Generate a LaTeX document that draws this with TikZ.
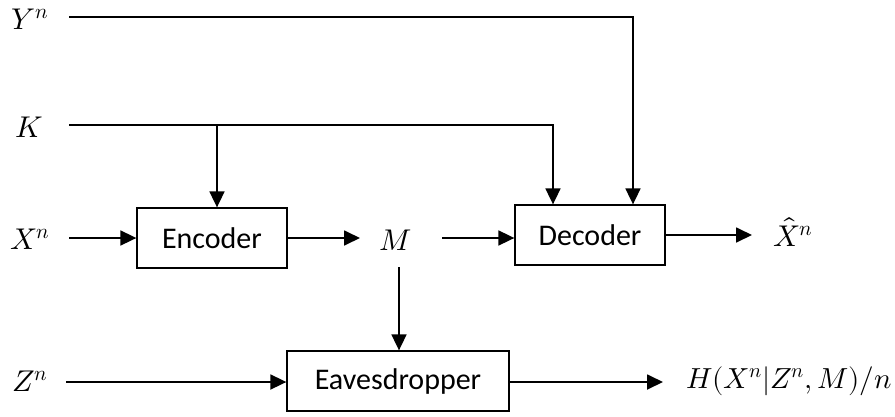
\documentclass[tikz,border=0pt]{standalone}
\usepackage{fontspec}
\usepackage{unicode-math}
\setmainfont{Carlito}
\setmathfont{Latin Modern Math}
\usetikzlibrary{arrows.meta}
\begin{document}
\begin{tikzpicture}[x=1pt,y=-1pt,
  blk/.style={draw,line width=1.3pt,minimum height=60pt,inner sep=0pt,font=\fontsize{30}{36}\selectfont},
  lbl/.style={inner sep=0pt,font=\fontsize{30}{36}\selectfont},
  wire/.style={line width=1.8pt},
  arr/.style={wire,-{Triangle[length=16pt,width=15pt]}}]
\useasboundingbox (0,0) rectangle (895,416);
% blocks
\node[blk,minimum width=150pt] (enc) at (212,238) {Encoder};
\node[blk,minimum width=150pt] (dec) at (590,235) {Decoder};
\node[blk,minimum width=222pt] (eav) at (398,381) {Eavesdropper};
% labels
\node[lbl] (Y) at (30,19) {$Y^n$};
\node[lbl] (K) at (29,127) {$K$};
\node[lbl] (X) at (30,239) {$X^n$};
\node[lbl] (Z) at (30,381) {$Z^n$};
\node[lbl] (M) at (396,240) {$M$};
\node[lbl] (Xh) at (793,232) {$\hat{X}^n$};
\node[lbl,anchor=west,font=\fontsize{29}{34}\selectfont] (H) at (686,381) {$H(X^n|Z^n,M)/n$};
% free ends
\coordinate (ys) at (69,17);
\coordinate (ks) at (69,125);
\coordinate (yc) at (633,17);
\coordinate (kc) at (553,125);
\coordinate (kb) at (217,125);
% connectors
\draw[arr] (ys) -- (yc) -- (yc |- dec.north);
\draw[arr] (ks) -- (kc) -- (kc |- dec.north);
\draw[arr] (kb) -- (kb |- enc.north);
\draw[arr] (69,238) coordinate (xs) -- (enc.west);
\draw[arr] (enc.east) -- (360,238) coordinate (me);
\draw[arr] (442,238) coordinate (mo) -- (dec.west |- mo);
\draw[arr] (dec.east) -- (752,235) coordinate (xo);
\draw[arr] (399,267) coordinate (md) -- (399,351 |- eav.north);
\draw[arr] (66,382) coordinate (zs) -- (eav.west |- zs);
\draw[arr] (eav.east |- zs) -- (663,382) coordinate (ho);
\end{tikzpicture}
\end{document}
